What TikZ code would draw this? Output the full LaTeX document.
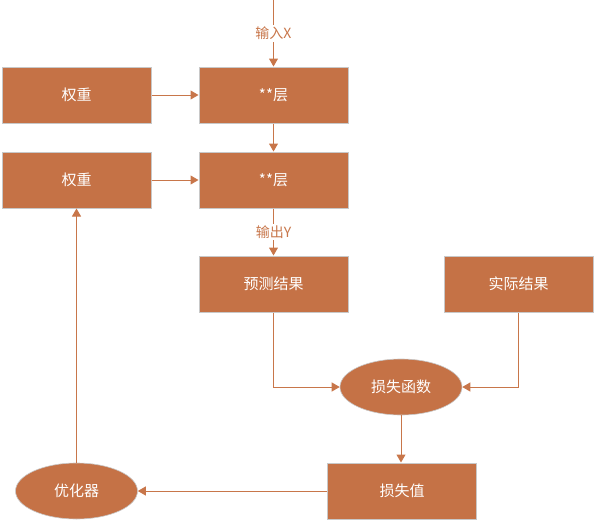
\documentclass[tikz,border=0pt]{standalone}
\usepackage{fontspec}
\newfontfamily\cjk{Noto Sans CJK SC}
\usetikzlibrary{arrows.meta,shapes.geometric}
\definecolor{boxfill}{RGB}{197,114,70}
\definecolor{linec}{RGB}{200,118,74}
\definecolor{bordc}{RGB}{200,200,200}
\tikzset{
  box/.style={rectangle, draw=bordc, line width=1pt, fill=boxfill, minimum width=149pt, minimum height=56pt, inner sep=0pt, text=white, font=\cjk\fontsize{15}{15}\selectfont},
  oval/.style={ellipse, draw=bordc, line width=0.6pt, fill=boxfill, minimum width=122pt, minimum height=56pt, inner sep=0pt, text=white, font=\cjk\fontsize{15}{15}\selectfont},
  conn/.style={draw=linec, line width=1pt, -{Triangle[length=8pt,width=9pt]}},
  lbl/.style={fill=white, text=linec, inner sep=2pt, font=\cjk\fontsize{14}{14}\selectfont}
}
\begin{document}
\begin{tikzpicture}[x=1pt,y=-1pt]
\useasboundingbox (0,0) rectangle (595,520);
\node[box] (l1) at (273.5,95) {**层};
\node[box] (w1) at (76.5,95) {权重};
\node[box] (l2) at (273.5,180) {**层};
\node[box] (w2) at (76.5,180) {权重};
\node[box] (pred) at (273.5,284) {预测结果};
\node[box] (act) at (518.5,284) {实际结果};
\node[oval] (lossf) at (401,387) {损失函数};
\node[box] (lossv) at (402,491) {损失值};
\node[oval] (opt) at (76.5,491) {优化器};
\coordinate (in) at (273.5,0);
\draw[conn] (in) -- node[lbl, pos=0.5] {输入X} (l1.north);
\draw[conn] (w1.east) -- (l1.west);
\draw[conn] (l1.south) -- (l2.north);
\draw[conn] (w2.east) -- (l2.west);
\draw[conn] (l2.south) -- node[lbl, pos=0.5] {输出Y} (pred.north);
\draw[conn] (pred.south) |- (lossf.west);
\draw[conn] (act.south) |- (lossf.east);
\draw[conn] (lossf.south) -- (lossf.south |- lossv.north);
\draw[conn] (lossv.west) -- (opt.east);
\draw[conn] (opt.north) -- (w2.south);
\end{tikzpicture}
\end{document}
